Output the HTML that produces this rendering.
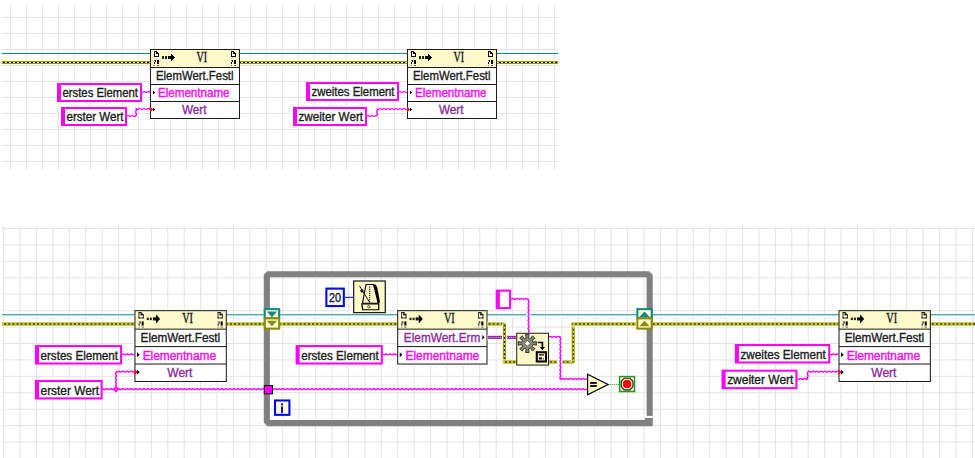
<!DOCTYPE html>
<html><head><meta charset="utf-8"><style>
html,body{margin:0;padding:0;background:#fff;width:975px;height:458px;overflow:hidden}
svg{position:absolute;left:0;top:0;display:block}
text{white-space:pre}
</style></head><body>
<svg width="975" height="458" viewBox="0 0 975 458" shape-rendering="crispEdges">
<rect x="0" y="0" width="975" height="458" fill="#ffffff"/>
<rect x="10" y="5" width="1" height="165" fill="#e4e4e4"/>
<rect x="26" y="5" width="1" height="165" fill="#e4e4e4"/>
<rect x="42" y="5" width="1" height="165" fill="#e4e4e4"/>
<rect x="58" y="5" width="1" height="165" fill="#e4e4e4"/>
<rect x="74" y="5" width="1" height="165" fill="#e4e4e4"/>
<rect x="90" y="5" width="1" height="165" fill="#e4e4e4"/>
<rect x="106" y="5" width="1" height="165" fill="#e4e4e4"/>
<rect x="122" y="5" width="1" height="165" fill="#e4e4e4"/>
<rect x="138" y="5" width="1" height="165" fill="#e4e4e4"/>
<rect x="154" y="5" width="1" height="165" fill="#e4e4e4"/>
<rect x="170" y="5" width="1" height="165" fill="#e4e4e4"/>
<rect x="186" y="5" width="1" height="165" fill="#e4e4e4"/>
<rect x="202" y="5" width="1" height="165" fill="#e4e4e4"/>
<rect x="218" y="5" width="1" height="165" fill="#e4e4e4"/>
<rect x="234" y="5" width="1" height="165" fill="#e4e4e4"/>
<rect x="250" y="5" width="1" height="165" fill="#e4e4e4"/>
<rect x="266" y="5" width="1" height="165" fill="#e4e4e4"/>
<rect x="282" y="5" width="1" height="165" fill="#e4e4e4"/>
<rect x="298" y="5" width="1" height="165" fill="#e4e4e4"/>
<rect x="314" y="5" width="1" height="165" fill="#e4e4e4"/>
<rect x="330" y="5" width="1" height="165" fill="#e4e4e4"/>
<rect x="346" y="5" width="1" height="165" fill="#e4e4e4"/>
<rect x="362" y="5" width="1" height="165" fill="#e4e4e4"/>
<rect x="378" y="5" width="1" height="165" fill="#e4e4e4"/>
<rect x="394" y="5" width="1" height="165" fill="#e4e4e4"/>
<rect x="410" y="5" width="1" height="165" fill="#e4e4e4"/>
<rect x="426" y="5" width="1" height="165" fill="#e4e4e4"/>
<rect x="442" y="5" width="1" height="165" fill="#e4e4e4"/>
<rect x="458" y="5" width="1" height="165" fill="#e4e4e4"/>
<rect x="474" y="5" width="1" height="165" fill="#e4e4e4"/>
<rect x="490" y="5" width="1" height="165" fill="#e4e4e4"/>
<rect x="506" y="5" width="1" height="165" fill="#e4e4e4"/>
<rect x="522" y="5" width="1" height="165" fill="#e4e4e4"/>
<rect x="538" y="5" width="1" height="165" fill="#e4e4e4"/>
<rect x="554" y="5" width="1" height="165" fill="#e4e4e4"/>
<rect x="2" y="17" width="556" height="1" fill="#e4e4e4"/>
<rect x="2" y="33" width="556" height="1" fill="#e4e4e4"/>
<rect x="2" y="49" width="556" height="1" fill="#e4e4e4"/>
<rect x="2" y="65" width="556" height="1" fill="#e4e4e4"/>
<rect x="2" y="81" width="556" height="1" fill="#e4e4e4"/>
<rect x="2" y="97" width="556" height="1" fill="#e4e4e4"/>
<rect x="2" y="113" width="556" height="1" fill="#e4e4e4"/>
<rect x="2" y="129" width="556" height="1" fill="#e4e4e4"/>
<rect x="2" y="145" width="556" height="1" fill="#e4e4e4"/>
<rect x="2" y="161" width="556" height="1" fill="#e4e4e4"/>
<rect x="2" y="52" width="556" height="3" fill="#ffffff"/>
<rect x="2" y="53" width="556" height="1" fill="#0e8a8a"/>
<rect x="2" y="60" width="556" height="5" fill="#ffffff"/>
<rect x="2" y="61" width="556" height="3" fill="#989800"/>
<rect x="2" y="62" width="556" height="1" fill="#ffff00"/>
<rect x="3" y="62" width="2" height="1" fill="#000000"/>
<rect x="7" y="62" width="2" height="1" fill="#000000"/>
<rect x="11" y="62" width="2" height="1" fill="#000000"/>
<rect x="15" y="62" width="2" height="1" fill="#000000"/>
<rect x="19" y="62" width="2" height="1" fill="#000000"/>
<rect x="23" y="62" width="2" height="1" fill="#000000"/>
<rect x="27" y="62" width="2" height="1" fill="#000000"/>
<rect x="31" y="62" width="2" height="1" fill="#000000"/>
<rect x="35" y="62" width="2" height="1" fill="#000000"/>
<rect x="39" y="62" width="2" height="1" fill="#000000"/>
<rect x="43" y="62" width="2" height="1" fill="#000000"/>
<rect x="47" y="62" width="2" height="1" fill="#000000"/>
<rect x="51" y="62" width="2" height="1" fill="#000000"/>
<rect x="55" y="62" width="2" height="1" fill="#000000"/>
<rect x="59" y="62" width="2" height="1" fill="#000000"/>
<rect x="63" y="62" width="2" height="1" fill="#000000"/>
<rect x="67" y="62" width="2" height="1" fill="#000000"/>
<rect x="71" y="62" width="2" height="1" fill="#000000"/>
<rect x="75" y="62" width="2" height="1" fill="#000000"/>
<rect x="79" y="62" width="2" height="1" fill="#000000"/>
<rect x="83" y="62" width="2" height="1" fill="#000000"/>
<rect x="87" y="62" width="2" height="1" fill="#000000"/>
<rect x="91" y="62" width="2" height="1" fill="#000000"/>
<rect x="95" y="62" width="2" height="1" fill="#000000"/>
<rect x="99" y="62" width="2" height="1" fill="#000000"/>
<rect x="103" y="62" width="2" height="1" fill="#000000"/>
<rect x="107" y="62" width="2" height="1" fill="#000000"/>
<rect x="111" y="62" width="2" height="1" fill="#000000"/>
<rect x="115" y="62" width="2" height="1" fill="#000000"/>
<rect x="119" y="62" width="2" height="1" fill="#000000"/>
<rect x="123" y="62" width="2" height="1" fill="#000000"/>
<rect x="127" y="62" width="2" height="1" fill="#000000"/>
<rect x="131" y="62" width="2" height="1" fill="#000000"/>
<rect x="135" y="62" width="2" height="1" fill="#000000"/>
<rect x="139" y="62" width="2" height="1" fill="#000000"/>
<rect x="143" y="62" width="2" height="1" fill="#000000"/>
<rect x="147" y="62" width="2" height="1" fill="#000000"/>
<rect x="151" y="62" width="2" height="1" fill="#000000"/>
<rect x="155" y="62" width="2" height="1" fill="#000000"/>
<rect x="159" y="62" width="2" height="1" fill="#000000"/>
<rect x="163" y="62" width="2" height="1" fill="#000000"/>
<rect x="167" y="62" width="2" height="1" fill="#000000"/>
<rect x="171" y="62" width="2" height="1" fill="#000000"/>
<rect x="175" y="62" width="2" height="1" fill="#000000"/>
<rect x="179" y="62" width="2" height="1" fill="#000000"/>
<rect x="183" y="62" width="2" height="1" fill="#000000"/>
<rect x="187" y="62" width="2" height="1" fill="#000000"/>
<rect x="191" y="62" width="2" height="1" fill="#000000"/>
<rect x="195" y="62" width="2" height="1" fill="#000000"/>
<rect x="199" y="62" width="2" height="1" fill="#000000"/>
<rect x="203" y="62" width="2" height="1" fill="#000000"/>
<rect x="207" y="62" width="2" height="1" fill="#000000"/>
<rect x="211" y="62" width="2" height="1" fill="#000000"/>
<rect x="215" y="62" width="2" height="1" fill="#000000"/>
<rect x="219" y="62" width="2" height="1" fill="#000000"/>
<rect x="223" y="62" width="2" height="1" fill="#000000"/>
<rect x="227" y="62" width="2" height="1" fill="#000000"/>
<rect x="231" y="62" width="2" height="1" fill="#000000"/>
<rect x="235" y="62" width="2" height="1" fill="#000000"/>
<rect x="239" y="62" width="2" height="1" fill="#000000"/>
<rect x="243" y="62" width="2" height="1" fill="#000000"/>
<rect x="247" y="62" width="2" height="1" fill="#000000"/>
<rect x="251" y="62" width="2" height="1" fill="#000000"/>
<rect x="255" y="62" width="2" height="1" fill="#000000"/>
<rect x="259" y="62" width="2" height="1" fill="#000000"/>
<rect x="263" y="62" width="2" height="1" fill="#000000"/>
<rect x="267" y="62" width="2" height="1" fill="#000000"/>
<rect x="271" y="62" width="2" height="1" fill="#000000"/>
<rect x="275" y="62" width="2" height="1" fill="#000000"/>
<rect x="279" y="62" width="2" height="1" fill="#000000"/>
<rect x="283" y="62" width="2" height="1" fill="#000000"/>
<rect x="287" y="62" width="2" height="1" fill="#000000"/>
<rect x="291" y="62" width="2" height="1" fill="#000000"/>
<rect x="295" y="62" width="2" height="1" fill="#000000"/>
<rect x="299" y="62" width="2" height="1" fill="#000000"/>
<rect x="303" y="62" width="2" height="1" fill="#000000"/>
<rect x="307" y="62" width="2" height="1" fill="#000000"/>
<rect x="311" y="62" width="2" height="1" fill="#000000"/>
<rect x="315" y="62" width="2" height="1" fill="#000000"/>
<rect x="319" y="62" width="2" height="1" fill="#000000"/>
<rect x="323" y="62" width="2" height="1" fill="#000000"/>
<rect x="327" y="62" width="2" height="1" fill="#000000"/>
<rect x="331" y="62" width="2" height="1" fill="#000000"/>
<rect x="335" y="62" width="2" height="1" fill="#000000"/>
<rect x="339" y="62" width="2" height="1" fill="#000000"/>
<rect x="343" y="62" width="2" height="1" fill="#000000"/>
<rect x="347" y="62" width="2" height="1" fill="#000000"/>
<rect x="351" y="62" width="2" height="1" fill="#000000"/>
<rect x="355" y="62" width="2" height="1" fill="#000000"/>
<rect x="359" y="62" width="2" height="1" fill="#000000"/>
<rect x="363" y="62" width="2" height="1" fill="#000000"/>
<rect x="367" y="62" width="2" height="1" fill="#000000"/>
<rect x="371" y="62" width="2" height="1" fill="#000000"/>
<rect x="375" y="62" width="2" height="1" fill="#000000"/>
<rect x="379" y="62" width="2" height="1" fill="#000000"/>
<rect x="383" y="62" width="2" height="1" fill="#000000"/>
<rect x="387" y="62" width="2" height="1" fill="#000000"/>
<rect x="391" y="62" width="2" height="1" fill="#000000"/>
<rect x="395" y="62" width="2" height="1" fill="#000000"/>
<rect x="399" y="62" width="2" height="1" fill="#000000"/>
<rect x="403" y="62" width="2" height="1" fill="#000000"/>
<rect x="407" y="62" width="2" height="1" fill="#000000"/>
<rect x="411" y="62" width="2" height="1" fill="#000000"/>
<rect x="415" y="62" width="2" height="1" fill="#000000"/>
<rect x="419" y="62" width="2" height="1" fill="#000000"/>
<rect x="423" y="62" width="2" height="1" fill="#000000"/>
<rect x="427" y="62" width="2" height="1" fill="#000000"/>
<rect x="431" y="62" width="2" height="1" fill="#000000"/>
<rect x="435" y="62" width="2" height="1" fill="#000000"/>
<rect x="439" y="62" width="2" height="1" fill="#000000"/>
<rect x="443" y="62" width="2" height="1" fill="#000000"/>
<rect x="447" y="62" width="2" height="1" fill="#000000"/>
<rect x="451" y="62" width="2" height="1" fill="#000000"/>
<rect x="455" y="62" width="2" height="1" fill="#000000"/>
<rect x="459" y="62" width="2" height="1" fill="#000000"/>
<rect x="463" y="62" width="2" height="1" fill="#000000"/>
<rect x="467" y="62" width="2" height="1" fill="#000000"/>
<rect x="471" y="62" width="2" height="1" fill="#000000"/>
<rect x="475" y="62" width="2" height="1" fill="#000000"/>
<rect x="479" y="62" width="2" height="1" fill="#000000"/>
<rect x="483" y="62" width="2" height="1" fill="#000000"/>
<rect x="487" y="62" width="2" height="1" fill="#000000"/>
<rect x="491" y="62" width="2" height="1" fill="#000000"/>
<rect x="495" y="62" width="2" height="1" fill="#000000"/>
<rect x="499" y="62" width="2" height="1" fill="#000000"/>
<rect x="503" y="62" width="2" height="1" fill="#000000"/>
<rect x="507" y="62" width="2" height="1" fill="#000000"/>
<rect x="511" y="62" width="2" height="1" fill="#000000"/>
<rect x="515" y="62" width="2" height="1" fill="#000000"/>
<rect x="519" y="62" width="2" height="1" fill="#000000"/>
<rect x="523" y="62" width="2" height="1" fill="#000000"/>
<rect x="527" y="62" width="2" height="1" fill="#000000"/>
<rect x="531" y="62" width="2" height="1" fill="#000000"/>
<rect x="535" y="62" width="2" height="1" fill="#000000"/>
<rect x="539" y="62" width="2" height="1" fill="#000000"/>
<rect x="543" y="62" width="2" height="1" fill="#000000"/>
<rect x="547" y="62" width="2" height="1" fill="#000000"/>
<rect x="551" y="62" width="2" height="1" fill="#000000"/>
<rect x="555" y="62" width="2" height="1" fill="#000000"/>
<rect x="150" y="49" width="90" height="70" fill="#1c1c1c"/>
<rect x="151" y="50" width="88" height="17" fill="#fffac9"/>
<rect x="151" y="68" width="88" height="16" fill="#ffffff"/>
<rect x="151" y="85" width="88" height="16" fill="#ffffff"/>
<rect x="151" y="102" width="88" height="16" fill="#ffffff"/>
<rect x="154" y="51" width="1" height="6" fill="#000"/>
<rect x="154" y="56" width="5" height="1" fill="#000"/>
<rect x="158" y="53" width="1" height="4" fill="#000"/>
<rect x="154" y="51" width="3" height="1" fill="#000"/>
<rect x="155" y="52" width="3" height="4" fill="#ffffff"/>
<rect x="156" y="51" width="1" height="3" fill="#000"/>
<rect x="156" y="53" width="3" height="1" fill="#000"/>
<rect x="157" y="52" width="1" height="1" fill="#000"/>
<rect x="154" y="60" width="1" height="1" fill="#777"/>
<rect x="155" y="60" width="1" height="2" fill="#000"/>
<rect x="154" y="62" width="1" height="2" fill="#000"/>
<rect x="157" y="60" width="2" height="4" fill="#000"/>
<rect x="154" y="65" width="1" height="1" fill="#666"/>
<rect x="157" y="65" width="2" height="1" fill="#555"/>
<rect x="231" y="51" width="1" height="6" fill="#000"/>
<rect x="231" y="56" width="5" height="1" fill="#000"/>
<rect x="235" y="53" width="1" height="4" fill="#000"/>
<rect x="231" y="51" width="3" height="1" fill="#000"/>
<rect x="232" y="52" width="3" height="4" fill="#ffffff"/>
<rect x="233" y="51" width="1" height="3" fill="#000"/>
<rect x="233" y="53" width="3" height="1" fill="#000"/>
<rect x="234" y="52" width="1" height="1" fill="#000"/>
<rect x="231" y="60" width="1" height="1" fill="#777"/>
<rect x="232" y="60" width="1" height="2" fill="#000"/>
<rect x="231" y="62" width="1" height="2" fill="#000"/>
<rect x="234" y="60" width="2" height="4" fill="#000"/>
<rect x="231" y="65" width="1" height="1" fill="#666"/>
<rect x="234" y="65" width="2" height="1" fill="#555"/>
<rect x="162" y="56.3" width="2" height="2.4" fill="#222"/>
<rect x="165" y="56.3" width="2" height="2.4" fill="#222"/>
<rect x="168" y="56" width="3" height="3" fill="#000"/>
<polygon points="171,53 175,57.5 171,62" fill="#000"/>
<text x="196.5" y="61.5" font-family="Liberation Serif" font-size="13.9" fill="#101020" stroke="#101020" stroke-width="0.32" text-anchor="start" textLength="10.6" lengthAdjust="spacingAndGlyphs">VI</text>
<text x="156" y="80.4" font-family="Liberation Sans" font-size="12.5" fill="#1a1a1a" stroke="#1a1a1a" stroke-width="0.35" text-anchor="start" textLength="77.5" lengthAdjust="spacingAndGlyphs">ElemWert.Festl</text>
<polygon points="152.5,90 155,92.5 152.5,95" fill="#000"/>
<text x="158" y="97.4" font-family="Liberation Sans" font-size="12.5" fill="#ff00ff" stroke="#ff00ff" stroke-width="0.35" text-anchor="start" textLength="71.5" lengthAdjust="spacingAndGlyphs">Elementname</text>
<polygon points="152.5,107 155,109.5 152.5,112" fill="#000"/>
<polygon points="150,106.5 153,109.5 150,112.5" fill="#ff0000" shape-rendering="auto"/>
<text x="182" y="114.4" font-family="Liberation Sans" font-size="12.5" fill="#8a2a9a" stroke="#8a2a9a" stroke-width="0.35" text-anchor="start" textLength="24.5" lengthAdjust="spacingAndGlyphs">Wert</text>
<rect x="407" y="49" width="90" height="70" fill="#1c1c1c"/>
<rect x="408" y="50" width="88" height="17" fill="#fffac9"/>
<rect x="408" y="68" width="88" height="16" fill="#ffffff"/>
<rect x="408" y="85" width="88" height="16" fill="#ffffff"/>
<rect x="408" y="102" width="88" height="16" fill="#ffffff"/>
<rect x="411" y="51" width="1" height="6" fill="#000"/>
<rect x="411" y="56" width="5" height="1" fill="#000"/>
<rect x="415" y="53" width="1" height="4" fill="#000"/>
<rect x="411" y="51" width="3" height="1" fill="#000"/>
<rect x="412" y="52" width="3" height="4" fill="#ffffff"/>
<rect x="413" y="51" width="1" height="3" fill="#000"/>
<rect x="413" y="53" width="3" height="1" fill="#000"/>
<rect x="414" y="52" width="1" height="1" fill="#000"/>
<rect x="411" y="60" width="1" height="1" fill="#777"/>
<rect x="412" y="60" width="1" height="2" fill="#000"/>
<rect x="411" y="62" width="1" height="2" fill="#000"/>
<rect x="414" y="60" width="2" height="4" fill="#000"/>
<rect x="411" y="65" width="1" height="1" fill="#666"/>
<rect x="414" y="65" width="2" height="1" fill="#555"/>
<rect x="488" y="51" width="1" height="6" fill="#000"/>
<rect x="488" y="56" width="5" height="1" fill="#000"/>
<rect x="492" y="53" width="1" height="4" fill="#000"/>
<rect x="488" y="51" width="3" height="1" fill="#000"/>
<rect x="489" y="52" width="3" height="4" fill="#ffffff"/>
<rect x="490" y="51" width="1" height="3" fill="#000"/>
<rect x="490" y="53" width="3" height="1" fill="#000"/>
<rect x="491" y="52" width="1" height="1" fill="#000"/>
<rect x="488" y="60" width="1" height="1" fill="#777"/>
<rect x="489" y="60" width="1" height="2" fill="#000"/>
<rect x="488" y="62" width="1" height="2" fill="#000"/>
<rect x="491" y="60" width="2" height="4" fill="#000"/>
<rect x="488" y="65" width="1" height="1" fill="#666"/>
<rect x="491" y="65" width="2" height="1" fill="#555"/>
<rect x="419" y="56.3" width="2" height="2.4" fill="#222"/>
<rect x="422" y="56.3" width="2" height="2.4" fill="#222"/>
<rect x="425" y="56" width="3" height="3" fill="#000"/>
<polygon points="428,53 432,57.5 428,62" fill="#000"/>
<text x="453.5" y="61.5" font-family="Liberation Serif" font-size="13.9" fill="#101020" stroke="#101020" stroke-width="0.32" text-anchor="start" textLength="10.6" lengthAdjust="spacingAndGlyphs">VI</text>
<text x="413" y="80.4" font-family="Liberation Sans" font-size="12.5" fill="#1a1a1a" stroke="#1a1a1a" stroke-width="0.35" text-anchor="start" textLength="77.5" lengthAdjust="spacingAndGlyphs">ElemWert.Festl</text>
<polygon points="409.5,90 412,92.5 409.5,95" fill="#000"/>
<text x="415" y="97.4" font-family="Liberation Sans" font-size="12.5" fill="#ff00ff" stroke="#ff00ff" stroke-width="0.35" text-anchor="start" textLength="71.5" lengthAdjust="spacingAndGlyphs">Elementname</text>
<polygon points="409.5,107 412,109.5 409.5,112" fill="#000"/>
<polygon points="407,106.5 410,109.5 407,112.5" fill="#ff0000" shape-rendering="auto"/>
<text x="439" y="114.4" font-family="Liberation Sans" font-size="12.5" fill="#8a2a9a" stroke="#8a2a9a" stroke-width="0.35" text-anchor="start" textLength="24.5" lengthAdjust="spacingAndGlyphs">Wert</text>
<rect x="57" y="83" width="85" height="19" fill="#ff00ff"/>
<rect x="61" y="85" width="79" height="15" fill="#ffffff"/>
<text x="62.5" y="97.4" font-family="Liberation Sans" font-size="12.5" fill="#1a1a1a" stroke="#1a1a1a" stroke-width="0.35" text-anchor="start" textLength="75.5" lengthAdjust="spacingAndGlyphs">erstes Element</text>
<rect x="61" y="107" width="66" height="19" fill="#ff00ff"/>
<rect x="65" y="109" width="60" height="15" fill="#ffffff"/>
<text x="66.5" y="121.4" font-family="Liberation Sans" font-size="12.5" fill="#1a1a1a" stroke="#1a1a1a" stroke-width="0.35" text-anchor="start" textLength="57" lengthAdjust="spacingAndGlyphs">erster Wert</text>
<rect x="306" y="82" width="93" height="19" fill="#ff00ff"/>
<rect x="310" y="84" width="87" height="15" fill="#ffffff"/>
<text x="311.5" y="96.4" font-family="Liberation Sans" font-size="12.5" fill="#1a1a1a" stroke="#1a1a1a" stroke-width="0.35" text-anchor="start" textLength="83" lengthAdjust="spacingAndGlyphs">zweites Element</text>
<rect x="293" y="107" width="74" height="19" fill="#ff00ff"/>
<rect x="297" y="109" width="68" height="15" fill="#ffffff"/>
<text x="298.5" y="121.4" font-family="Liberation Sans" font-size="12.5" fill="#1a1a1a" stroke="#1a1a1a" stroke-width="0.35" text-anchor="start" textLength="64.5" lengthAdjust="spacingAndGlyphs">zweiter Wert</text>
<polyline points="142.00,92.00 142.00,92.50 144.00,91.50 146.00,92.50 148.00,91.50 150.00,92.00" fill="none" stroke="#ff00ff" stroke-width="1.35" stroke-linejoin="round" shape-rendering="auto"/>
<polyline points="127.00,116.00 128.00,115.50 130.00,116.50 132.00,115.50 134.00,116.50 136.00,116.00" fill="none" stroke="#ff00ff" stroke-width="1.35" stroke-linejoin="round" shape-rendering="auto"/>
<polyline points="136.00,109.00 136.50,110.00 135.50,112.00 136.50,114.00 136.00,116.00" fill="none" stroke="#ff00ff" stroke-width="1.35" stroke-linejoin="round" shape-rendering="auto"/>
<polyline points="136.00,109.00 136.00,108.50 138.00,109.50 140.00,108.50 142.00,109.50 144.00,108.50 146.00,109.50 148.00,108.50 150.00,109.00" fill="none" stroke="#ff00ff" stroke-width="1.35" stroke-linejoin="round" shape-rendering="auto"/>
<polyline points="399.00,92.00 400.00,91.50 402.00,92.50 404.00,91.50 406.00,92.50 407.00,92.00" fill="none" stroke="#ff00ff" stroke-width="1.35" stroke-linejoin="round" shape-rendering="auto"/>
<polyline points="367.00,116.00 368.00,115.50 370.00,116.50 372.00,115.50 374.00,116.50 376.00,115.50 377.00,116.00" fill="none" stroke="#ff00ff" stroke-width="1.35" stroke-linejoin="round" shape-rendering="auto"/>
<polyline points="377.00,109.00 377.50,110.00 376.50,112.00 377.50,114.00 377.00,116.00" fill="none" stroke="#ff00ff" stroke-width="1.35" stroke-linejoin="round" shape-rendering="auto"/>
<polyline points="377.00,109.00 378.00,109.50 380.00,108.50 382.00,109.50 384.00,108.50 386.00,109.50 388.00,108.50 390.00,109.50 392.00,108.50 394.00,109.50 396.00,108.50 398.00,109.50 400.00,108.50 402.00,109.50 404.00,108.50 406.00,109.50 407.00,109.00" fill="none" stroke="#ff00ff" stroke-width="1.35" stroke-linejoin="round" shape-rendering="auto"/>
<g transform="translate(0,226) scale(1.0263157894736843)" shape-rendering="auto"><rect x="3" y="0" width="1" height="227" fill="#e4e4e4"/>
<rect x="19" y="0" width="1" height="227" fill="#e4e4e4"/>
<rect x="35" y="0" width="1" height="227" fill="#e4e4e4"/>
<rect x="51" y="0" width="1" height="227" fill="#e4e4e4"/>
<rect x="67" y="0" width="1" height="227" fill="#e4e4e4"/>
<rect x="83" y="0" width="1" height="227" fill="#e4e4e4"/>
<rect x="99" y="0" width="1" height="227" fill="#e4e4e4"/>
<rect x="115" y="0" width="1" height="227" fill="#e4e4e4"/>
<rect x="131" y="0" width="1" height="227" fill="#e4e4e4"/>
<rect x="147" y="0" width="1" height="227" fill="#e4e4e4"/>
<rect x="163" y="0" width="1" height="227" fill="#e4e4e4"/>
<rect x="179" y="0" width="1" height="227" fill="#e4e4e4"/>
<rect x="195" y="0" width="1" height="227" fill="#e4e4e4"/>
<rect x="211" y="0" width="1" height="227" fill="#e4e4e4"/>
<rect x="227" y="0" width="1" height="227" fill="#e4e4e4"/>
<rect x="243" y="0" width="1" height="227" fill="#e4e4e4"/>
<rect x="259" y="0" width="1" height="227" fill="#e4e4e4"/>
<rect x="275" y="0" width="1" height="227" fill="#e4e4e4"/>
<rect x="291" y="0" width="1" height="227" fill="#e4e4e4"/>
<rect x="307" y="0" width="1" height="227" fill="#e4e4e4"/>
<rect x="323" y="0" width="1" height="227" fill="#e4e4e4"/>
<rect x="339" y="0" width="1" height="227" fill="#e4e4e4"/>
<rect x="355" y="0" width="1" height="227" fill="#e4e4e4"/>
<rect x="371" y="0" width="1" height="227" fill="#e4e4e4"/>
<rect x="387" y="0" width="1" height="227" fill="#e4e4e4"/>
<rect x="403" y="0" width="1" height="227" fill="#e4e4e4"/>
<rect x="419" y="0" width="1" height="227" fill="#e4e4e4"/>
<rect x="435" y="0" width="1" height="227" fill="#e4e4e4"/>
<rect x="451" y="0" width="1" height="227" fill="#e4e4e4"/>
<rect x="467" y="0" width="1" height="227" fill="#e4e4e4"/>
<rect x="483" y="0" width="1" height="227" fill="#e4e4e4"/>
<rect x="499" y="0" width="1" height="227" fill="#e4e4e4"/>
<rect x="515" y="0" width="1" height="227" fill="#e4e4e4"/>
<rect x="531" y="0" width="1" height="227" fill="#e4e4e4"/>
<rect x="547" y="0" width="1" height="227" fill="#e4e4e4"/>
<rect x="563" y="0" width="1" height="227" fill="#e4e4e4"/>
<rect x="579" y="0" width="1" height="227" fill="#e4e4e4"/>
<rect x="595" y="0" width="1" height="227" fill="#e4e4e4"/>
<rect x="611" y="0" width="1" height="227" fill="#e4e4e4"/>
<rect x="627" y="0" width="1" height="227" fill="#e4e4e4"/>
<rect x="643" y="0" width="1" height="227" fill="#e4e4e4"/>
<rect x="659" y="0" width="1" height="227" fill="#e4e4e4"/>
<rect x="675" y="0" width="1" height="227" fill="#e4e4e4"/>
<rect x="691" y="0" width="1" height="227" fill="#e4e4e4"/>
<rect x="707" y="0" width="1" height="227" fill="#e4e4e4"/>
<rect x="723" y="0" width="1" height="227" fill="#e4e4e4"/>
<rect x="739" y="0" width="1" height="227" fill="#e4e4e4"/>
<rect x="755" y="0" width="1" height="227" fill="#e4e4e4"/>
<rect x="771" y="0" width="1" height="227" fill="#e4e4e4"/>
<rect x="787" y="0" width="1" height="227" fill="#e4e4e4"/>
<rect x="803" y="0" width="1" height="227" fill="#e4e4e4"/>
<rect x="819" y="0" width="1" height="227" fill="#e4e4e4"/>
<rect x="835" y="0" width="1" height="227" fill="#e4e4e4"/>
<rect x="851" y="0" width="1" height="227" fill="#e4e4e4"/>
<rect x="867" y="0" width="1" height="227" fill="#e4e4e4"/>
<rect x="883" y="0" width="1" height="227" fill="#e4e4e4"/>
<rect x="899" y="0" width="1" height="227" fill="#e4e4e4"/>
<rect x="915" y="0" width="1" height="227" fill="#e4e4e4"/>
<rect x="931" y="0" width="1" height="227" fill="#e4e4e4"/>
<rect x="947" y="0" width="1" height="227" fill="#e4e4e4"/>
<rect x="2" y="2" width="949" height="1" fill="#e4e4e4"/>
<rect x="2" y="18" width="949" height="1" fill="#e4e4e4"/>
<rect x="2" y="34" width="949" height="1" fill="#e4e4e4"/>
<rect x="2" y="50" width="949" height="1" fill="#e4e4e4"/>
<rect x="2" y="66" width="949" height="1" fill="#e4e4e4"/>
<rect x="2" y="82" width="949" height="1" fill="#e4e4e4"/>
<rect x="2" y="98" width="949" height="1" fill="#e4e4e4"/>
<rect x="2" y="114" width="949" height="1" fill="#e4e4e4"/>
<rect x="2" y="130" width="949" height="1" fill="#e4e4e4"/>
<rect x="2" y="146" width="949" height="1" fill="#e4e4e4"/>
<rect x="2" y="162" width="949" height="1" fill="#e4e4e4"/>
<rect x="2" y="178" width="949" height="1" fill="#e4e4e4"/>
<rect x="2" y="194" width="949" height="1" fill="#e4e4e4"/>
<rect x="2" y="210" width="949" height="1" fill="#e4e4e4"/>
<rect x="2" y="226" width="949" height="1" fill="#e4e4e4"/>
<rect x="2" y="85" width="129" height="3" fill="#ffffff"/>
<rect x="2" y="86" width="129" height="1" fill="#0e8a8a"/>
<rect x="221" y="85" width="36" height="3" fill="#ffffff"/>
<rect x="221" y="86" width="36" height="1" fill="#0e8a8a"/>
<rect x="273" y="85" width="114" height="3" fill="#ffffff"/>
<rect x="273" y="86" width="114" height="1" fill="#0e8a8a"/>
<rect x="475" y="85" width="145" height="3" fill="#ffffff"/>
<rect x="475" y="86" width="145" height="1" fill="#0e8a8a"/>
<rect x="636" y="85" width="181" height="3" fill="#ffffff"/>
<rect x="636" y="86" width="181" height="1" fill="#0e8a8a"/>
<rect x="907" y="85" width="44" height="3" fill="#ffffff"/>
<rect x="907" y="86" width="44" height="1" fill="#0e8a8a"/>
<rect x="2" y="93" width="129" height="5" fill="#ffffff"/>
<rect x="2" y="94" width="129" height="3" fill="#989800"/>
<rect x="2" y="95" width="129" height="1" fill="#ffff00"/>
<rect x="4" y="95" width="2" height="1" fill="#000000"/>
<rect x="8" y="95" width="2" height="1" fill="#000000"/>
<rect x="12" y="95" width="2" height="1" fill="#000000"/>
<rect x="16" y="95" width="2" height="1" fill="#000000"/>
<rect x="20" y="95" width="2" height="1" fill="#000000"/>
<rect x="24" y="95" width="2" height="1" fill="#000000"/>
<rect x="28" y="95" width="2" height="1" fill="#000000"/>
<rect x="32" y="95" width="2" height="1" fill="#000000"/>
<rect x="36" y="95" width="2" height="1" fill="#000000"/>
<rect x="40" y="95" width="2" height="1" fill="#000000"/>
<rect x="44" y="95" width="2" height="1" fill="#000000"/>
<rect x="48" y="95" width="2" height="1" fill="#000000"/>
<rect x="52" y="95" width="2" height="1" fill="#000000"/>
<rect x="56" y="95" width="2" height="1" fill="#000000"/>
<rect x="60" y="95" width="2" height="1" fill="#000000"/>
<rect x="64" y="95" width="2" height="1" fill="#000000"/>
<rect x="68" y="95" width="2" height="1" fill="#000000"/>
<rect x="72" y="95" width="2" height="1" fill="#000000"/>
<rect x="76" y="95" width="2" height="1" fill="#000000"/>
<rect x="80" y="95" width="2" height="1" fill="#000000"/>
<rect x="84" y="95" width="2" height="1" fill="#000000"/>
<rect x="88" y="95" width="2" height="1" fill="#000000"/>
<rect x="92" y="95" width="2" height="1" fill="#000000"/>
<rect x="96" y="95" width="2" height="1" fill="#000000"/>
<rect x="100" y="95" width="2" height="1" fill="#000000"/>
<rect x="104" y="95" width="2" height="1" fill="#000000"/>
<rect x="108" y="95" width="2" height="1" fill="#000000"/>
<rect x="112" y="95" width="2" height="1" fill="#000000"/>
<rect x="116" y="95" width="2" height="1" fill="#000000"/>
<rect x="120" y="95" width="2" height="1" fill="#000000"/>
<rect x="124" y="95" width="2" height="1" fill="#000000"/>
<rect x="128" y="95" width="2" height="1" fill="#000000"/>
<rect x="221" y="93" width="36" height="5" fill="#ffffff"/>
<rect x="221" y="94" width="36" height="3" fill="#989800"/>
<rect x="221" y="95" width="36" height="1" fill="#ffff00"/>
<rect x="221" y="95" width="1" height="1" fill="#000000"/>
<rect x="224" y="95" width="2" height="1" fill="#000000"/>
<rect x="228" y="95" width="2" height="1" fill="#000000"/>
<rect x="232" y="95" width="2" height="1" fill="#000000"/>
<rect x="236" y="95" width="2" height="1" fill="#000000"/>
<rect x="240" y="95" width="2" height="1" fill="#000000"/>
<rect x="244" y="95" width="2" height="1" fill="#000000"/>
<rect x="248" y="95" width="2" height="1" fill="#000000"/>
<rect x="252" y="95" width="2" height="1" fill="#000000"/>
<rect x="256" y="95" width="1" height="1" fill="#000000"/>
<rect x="273" y="93" width="114" height="5" fill="#ffffff"/>
<rect x="273" y="94" width="114" height="3" fill="#989800"/>
<rect x="273" y="95" width="114" height="1" fill="#ffff00"/>
<rect x="273" y="95" width="1" height="1" fill="#000000"/>
<rect x="276" y="95" width="2" height="1" fill="#000000"/>
<rect x="280" y="95" width="2" height="1" fill="#000000"/>
<rect x="284" y="95" width="2" height="1" fill="#000000"/>
<rect x="288" y="95" width="2" height="1" fill="#000000"/>
<rect x="292" y="95" width="2" height="1" fill="#000000"/>
<rect x="296" y="95" width="2" height="1" fill="#000000"/>
<rect x="300" y="95" width="2" height="1" fill="#000000"/>
<rect x="304" y="95" width="2" height="1" fill="#000000"/>
<rect x="308" y="95" width="2" height="1" fill="#000000"/>
<rect x="312" y="95" width="2" height="1" fill="#000000"/>
<rect x="316" y="95" width="2" height="1" fill="#000000"/>
<rect x="320" y="95" width="2" height="1" fill="#000000"/>
<rect x="324" y="95" width="2" height="1" fill="#000000"/>
<rect x="328" y="95" width="2" height="1" fill="#000000"/>
<rect x="332" y="95" width="2" height="1" fill="#000000"/>
<rect x="336" y="95" width="2" height="1" fill="#000000"/>
<rect x="340" y="95" width="2" height="1" fill="#000000"/>
<rect x="344" y="95" width="2" height="1" fill="#000000"/>
<rect x="348" y="95" width="2" height="1" fill="#000000"/>
<rect x="352" y="95" width="2" height="1" fill="#000000"/>
<rect x="356" y="95" width="2" height="1" fill="#000000"/>
<rect x="360" y="95" width="2" height="1" fill="#000000"/>
<rect x="364" y="95" width="2" height="1" fill="#000000"/>
<rect x="368" y="95" width="2" height="1" fill="#000000"/>
<rect x="372" y="95" width="2" height="1" fill="#000000"/>
<rect x="376" y="95" width="2" height="1" fill="#000000"/>
<rect x="380" y="95" width="2" height="1" fill="#000000"/>
<rect x="384" y="95" width="2" height="1" fill="#000000"/>
<rect x="636" y="93" width="181" height="5" fill="#ffffff"/>
<rect x="636" y="94" width="181" height="3" fill="#989800"/>
<rect x="636" y="95" width="181" height="1" fill="#ffff00"/>
<rect x="636" y="95" width="2" height="1" fill="#000000"/>
<rect x="640" y="95" width="2" height="1" fill="#000000"/>
<rect x="644" y="95" width="2" height="1" fill="#000000"/>
<rect x="648" y="95" width="2" height="1" fill="#000000"/>
<rect x="652" y="95" width="2" height="1" fill="#000000"/>
<rect x="656" y="95" width="2" height="1" fill="#000000"/>
<rect x="660" y="95" width="2" height="1" fill="#000000"/>
<rect x="664" y="95" width="2" height="1" fill="#000000"/>
<rect x="668" y="95" width="2" height="1" fill="#000000"/>
<rect x="672" y="95" width="2" height="1" fill="#000000"/>
<rect x="676" y="95" width="2" height="1" fill="#000000"/>
<rect x="680" y="95" width="2" height="1" fill="#000000"/>
<rect x="684" y="95" width="2" height="1" fill="#000000"/>
<rect x="688" y="95" width="2" height="1" fill="#000000"/>
<rect x="692" y="95" width="2" height="1" fill="#000000"/>
<rect x="696" y="95" width="2" height="1" fill="#000000"/>
<rect x="700" y="95" width="2" height="1" fill="#000000"/>
<rect x="704" y="95" width="2" height="1" fill="#000000"/>
<rect x="708" y="95" width="2" height="1" fill="#000000"/>
<rect x="712" y="95" width="2" height="1" fill="#000000"/>
<rect x="716" y="95" width="2" height="1" fill="#000000"/>
<rect x="720" y="95" width="2" height="1" fill="#000000"/>
<rect x="724" y="95" width="2" height="1" fill="#000000"/>
<rect x="728" y="95" width="2" height="1" fill="#000000"/>
<rect x="732" y="95" width="2" height="1" fill="#000000"/>
<rect x="736" y="95" width="2" height="1" fill="#000000"/>
<rect x="740" y="95" width="2" height="1" fill="#000000"/>
<rect x="744" y="95" width="2" height="1" fill="#000000"/>
<rect x="748" y="95" width="2" height="1" fill="#000000"/>
<rect x="752" y="95" width="2" height="1" fill="#000000"/>
<rect x="756" y="95" width="2" height="1" fill="#000000"/>
<rect x="760" y="95" width="2" height="1" fill="#000000"/>
<rect x="764" y="95" width="2" height="1" fill="#000000"/>
<rect x="768" y="95" width="2" height="1" fill="#000000"/>
<rect x="772" y="95" width="2" height="1" fill="#000000"/>
<rect x="776" y="95" width="2" height="1" fill="#000000"/>
<rect x="780" y="95" width="2" height="1" fill="#000000"/>
<rect x="784" y="95" width="2" height="1" fill="#000000"/>
<rect x="788" y="95" width="2" height="1" fill="#000000"/>
<rect x="792" y="95" width="2" height="1" fill="#000000"/>
<rect x="796" y="95" width="2" height="1" fill="#000000"/>
<rect x="800" y="95" width="2" height="1" fill="#000000"/>
<rect x="804" y="95" width="2" height="1" fill="#000000"/>
<rect x="808" y="95" width="2" height="1" fill="#000000"/>
<rect x="812" y="95" width="2" height="1" fill="#000000"/>
<rect x="816" y="95" width="1" height="1" fill="#000000"/>
<rect x="907" y="93" width="44" height="5" fill="#ffffff"/>
<rect x="907" y="94" width="44" height="3" fill="#989800"/>
<rect x="907" y="95" width="44" height="1" fill="#ffff00"/>
<rect x="908" y="95" width="2" height="1" fill="#000000"/>
<rect x="912" y="95" width="2" height="1" fill="#000000"/>
<rect x="916" y="95" width="2" height="1" fill="#000000"/>
<rect x="920" y="95" width="2" height="1" fill="#000000"/>
<rect x="924" y="95" width="2" height="1" fill="#000000"/>
<rect x="928" y="95" width="2" height="1" fill="#000000"/>
<rect x="932" y="95" width="2" height="1" fill="#000000"/>
<rect x="936" y="95" width="2" height="1" fill="#000000"/>
<rect x="940" y="95" width="2" height="1" fill="#000000"/>
<rect x="944" y="95" width="2" height="1" fill="#000000"/>
<rect x="948" y="95" width="2" height="1" fill="#000000"/>
<path d="M260.5 44 H632.5 L636 47.5 V195 H260.5 L257 191.5 V47.5 Z M263 50 H630 V189 H263 Z" fill="#808080" fill-rule="evenodd"/>
<rect x="628.5" y="187" width="7.5" height="2" fill="#808080"/>
<rect x="629.5" y="185" width="6.5" height="2" fill="#ffffff"/>
<rect x="257" y="80" width="16" height="11" fill="#0e8a8a"/>
<rect x="259" y="82" width="12" height="7" fill="#fffcd3"/>
<polygon points="260,83.4 270,83.4 265.0,88.8" fill="#0e8a8a"/>
<rect x="257" y="89" width="16" height="12" fill="#8a8a00"/>
<rect x="259" y="91" width="12" height="8" fill="#fffcd3"/>
<polygon points="260,92.4 270,92.4 265.0,97.8" fill="#8a8a00"/>
<rect x="620" y="80" width="16" height="11" fill="#0e8a8a"/>
<rect x="622" y="82" width="12" height="7" fill="#fffcd3"/>
<polygon points="623,88.6 633,88.6 628.0,83.2" fill="#0e8a8a"/>
<rect x="620" y="89" width="16" height="12" fill="#8a8a00"/>
<rect x="622" y="91" width="12" height="8" fill="#fffcd3"/>
<polygon points="623,97.6 633,97.6 628.0,92.2" fill="#8a8a00"/>
<rect x="131" y="82" width="90" height="70" fill="#1c1c1c"/>
<rect x="132" y="83" width="88" height="17" fill="#fffac9"/>
<rect x="132" y="101" width="88" height="16" fill="#ffffff"/>
<rect x="132" y="118" width="88" height="16" fill="#ffffff"/>
<rect x="132" y="135" width="88" height="16" fill="#ffffff"/>
<rect x="135" y="84" width="1" height="6" fill="#000"/>
<rect x="135" y="89" width="5" height="1" fill="#000"/>
<rect x="139" y="86" width="1" height="4" fill="#000"/>
<rect x="135" y="84" width="3" height="1" fill="#000"/>
<rect x="136" y="85" width="3" height="4" fill="#ffffff"/>
<rect x="137" y="84" width="1" height="3" fill="#000"/>
<rect x="137" y="86" width="3" height="1" fill="#000"/>
<rect x="138" y="85" width="1" height="1" fill="#000"/>
<rect x="135" y="93" width="1" height="1" fill="#777"/>
<rect x="136" y="93" width="1" height="2" fill="#000"/>
<rect x="135" y="95" width="1" height="2" fill="#000"/>
<rect x="138" y="93" width="2" height="4" fill="#000"/>
<rect x="135" y="98" width="1" height="1" fill="#666"/>
<rect x="138" y="98" width="2" height="1" fill="#555"/>
<rect x="212" y="84" width="1" height="6" fill="#000"/>
<rect x="212" y="89" width="5" height="1" fill="#000"/>
<rect x="216" y="86" width="1" height="4" fill="#000"/>
<rect x="212" y="84" width="3" height="1" fill="#000"/>
<rect x="213" y="85" width="3" height="4" fill="#ffffff"/>
<rect x="214" y="84" width="1" height="3" fill="#000"/>
<rect x="214" y="86" width="3" height="1" fill="#000"/>
<rect x="215" y="85" width="1" height="1" fill="#000"/>
<rect x="212" y="93" width="1" height="1" fill="#777"/>
<rect x="213" y="93" width="1" height="2" fill="#000"/>
<rect x="212" y="95" width="1" height="2" fill="#000"/>
<rect x="215" y="93" width="2" height="4" fill="#000"/>
<rect x="212" y="98" width="1" height="1" fill="#666"/>
<rect x="215" y="98" width="2" height="1" fill="#555"/>
<rect x="143" y="89.3" width="2" height="2.4" fill="#222"/>
<rect x="146" y="89.3" width="2" height="2.4" fill="#222"/>
<rect x="149" y="89" width="3" height="3" fill="#000"/>
<polygon points="152,86 156,90.5 152,95" fill="#000"/>
<text x="177.5" y="94.5" font-family="Liberation Serif" font-size="13.9" fill="#101020" stroke="#101020" stroke-width="0.32" text-anchor="start" textLength="10.6" lengthAdjust="spacingAndGlyphs">VI</text>
<text x="137" y="113.4" font-family="Liberation Sans" font-size="12.5" fill="#1a1a1a" stroke="#1a1a1a" stroke-width="0.35" text-anchor="start" textLength="77.5" lengthAdjust="spacingAndGlyphs">ElemWert.Festl</text>
<polygon points="133.5,123 136,125.5 133.5,128" fill="#000"/>
<text x="139" y="130.4" font-family="Liberation Sans" font-size="12.5" fill="#ff00ff" stroke="#ff00ff" stroke-width="0.35" text-anchor="start" textLength="71.5" lengthAdjust="spacingAndGlyphs">Elementname</text>
<polygon points="133.5,140 136,142.5 133.5,145" fill="#000"/>
<polygon points="131,139.5 134,142.5 131,145.5" fill="#ff0000" shape-rendering="auto"/>
<text x="163" y="147.4" font-family="Liberation Sans" font-size="12.5" fill="#8a2a9a" stroke="#8a2a9a" stroke-width="0.35" text-anchor="start" textLength="24.5" lengthAdjust="spacingAndGlyphs">Wert</text>
<rect x="817" y="82" width="90" height="70" fill="#1c1c1c"/>
<rect x="818" y="83" width="88" height="17" fill="#fffac9"/>
<rect x="818" y="101" width="88" height="16" fill="#ffffff"/>
<rect x="818" y="118" width="88" height="16" fill="#ffffff"/>
<rect x="818" y="135" width="88" height="16" fill="#ffffff"/>
<rect x="821" y="84" width="1" height="6" fill="#000"/>
<rect x="821" y="89" width="5" height="1" fill="#000"/>
<rect x="825" y="86" width="1" height="4" fill="#000"/>
<rect x="821" y="84" width="3" height="1" fill="#000"/>
<rect x="822" y="85" width="3" height="4" fill="#ffffff"/>
<rect x="823" y="84" width="1" height="3" fill="#000"/>
<rect x="823" y="86" width="3" height="1" fill="#000"/>
<rect x="824" y="85" width="1" height="1" fill="#000"/>
<rect x="821" y="93" width="1" height="1" fill="#777"/>
<rect x="822" y="93" width="1" height="2" fill="#000"/>
<rect x="821" y="95" width="1" height="2" fill="#000"/>
<rect x="824" y="93" width="2" height="4" fill="#000"/>
<rect x="821" y="98" width="1" height="1" fill="#666"/>
<rect x="824" y="98" width="2" height="1" fill="#555"/>
<rect x="898" y="84" width="1" height="6" fill="#000"/>
<rect x="898" y="89" width="5" height="1" fill="#000"/>
<rect x="902" y="86" width="1" height="4" fill="#000"/>
<rect x="898" y="84" width="3" height="1" fill="#000"/>
<rect x="899" y="85" width="3" height="4" fill="#ffffff"/>
<rect x="900" y="84" width="1" height="3" fill="#000"/>
<rect x="900" y="86" width="3" height="1" fill="#000"/>
<rect x="901" y="85" width="1" height="1" fill="#000"/>
<rect x="898" y="93" width="1" height="1" fill="#777"/>
<rect x="899" y="93" width="1" height="2" fill="#000"/>
<rect x="898" y="95" width="1" height="2" fill="#000"/>
<rect x="901" y="93" width="2" height="4" fill="#000"/>
<rect x="898" y="98" width="1" height="1" fill="#666"/>
<rect x="901" y="98" width="2" height="1" fill="#555"/>
<rect x="829" y="89.3" width="2" height="2.4" fill="#222"/>
<rect x="832" y="89.3" width="2" height="2.4" fill="#222"/>
<rect x="835" y="89" width="3" height="3" fill="#000"/>
<polygon points="838,86 842,90.5 838,95" fill="#000"/>
<text x="863.5" y="94.5" font-family="Liberation Serif" font-size="13.9" fill="#101020" stroke="#101020" stroke-width="0.32" text-anchor="start" textLength="10.6" lengthAdjust="spacingAndGlyphs">VI</text>
<text x="823" y="113.4" font-family="Liberation Sans" font-size="12.5" fill="#1a1a1a" stroke="#1a1a1a" stroke-width="0.35" text-anchor="start" textLength="77.5" lengthAdjust="spacingAndGlyphs">ElemWert.Festl</text>
<polygon points="819.5,123 822,125.5 819.5,128" fill="#000"/>
<text x="825" y="130.4" font-family="Liberation Sans" font-size="12.5" fill="#ff00ff" stroke="#ff00ff" stroke-width="0.35" text-anchor="start" textLength="71.5" lengthAdjust="spacingAndGlyphs">Elementname</text>
<polygon points="819.5,140 822,142.5 819.5,145" fill="#000"/>
<polygon points="817,139.5 820,142.5 817,145.5" fill="#ff0000" shape-rendering="auto"/>
<text x="849" y="147.4" font-family="Liberation Sans" font-size="12.5" fill="#8a2a9a" stroke="#8a2a9a" stroke-width="0.35" text-anchor="start" textLength="24.5" lengthAdjust="spacingAndGlyphs">Wert</text>
<rect x="387" y="82" width="88" height="53" fill="#1c1c1c"/>
<rect x="388" y="83" width="86" height="17" fill="#fffac9"/>
<rect x="388" y="101" width="86" height="16" fill="#ffffff"/>
<rect x="388" y="118" width="86" height="16" fill="#ffffff"/>
<rect x="391" y="84" width="1" height="6" fill="#000"/>
<rect x="391" y="89" width="5" height="1" fill="#000"/>
<rect x="395" y="86" width="1" height="4" fill="#000"/>
<rect x="391" y="84" width="3" height="1" fill="#000"/>
<rect x="392" y="85" width="3" height="4" fill="#ffffff"/>
<rect x="393" y="84" width="1" height="3" fill="#000"/>
<rect x="393" y="86" width="3" height="1" fill="#000"/>
<rect x="394" y="85" width="1" height="1" fill="#000"/>
<rect x="391" y="93" width="1" height="1" fill="#777"/>
<rect x="392" y="93" width="1" height="2" fill="#000"/>
<rect x="391" y="95" width="1" height="2" fill="#000"/>
<rect x="394" y="93" width="2" height="4" fill="#000"/>
<rect x="391" y="98" width="1" height="1" fill="#666"/>
<rect x="394" y="98" width="2" height="1" fill="#555"/>
<rect x="466" y="84" width="1" height="6" fill="#000"/>
<rect x="466" y="89" width="5" height="1" fill="#000"/>
<rect x="470" y="86" width="1" height="4" fill="#000"/>
<rect x="466" y="84" width="3" height="1" fill="#000"/>
<rect x="467" y="85" width="3" height="4" fill="#ffffff"/>
<rect x="468" y="84" width="1" height="3" fill="#000"/>
<rect x="468" y="86" width="3" height="1" fill="#000"/>
<rect x="469" y="85" width="1" height="1" fill="#000"/>
<rect x="466" y="93" width="1" height="1" fill="#777"/>
<rect x="467" y="93" width="1" height="2" fill="#000"/>
<rect x="466" y="95" width="1" height="2" fill="#000"/>
<rect x="469" y="93" width="2" height="4" fill="#000"/>
<rect x="466" y="98" width="1" height="1" fill="#666"/>
<rect x="469" y="98" width="2" height="1" fill="#555"/>
<rect x="399" y="89.3" width="2" height="2.4" fill="#222"/>
<rect x="402" y="89.3" width="2" height="2.4" fill="#222"/>
<rect x="405" y="89" width="3" height="3" fill="#000"/>
<polygon points="408,86 412,90.5 408,95" fill="#000"/>
<text x="432.5" y="94.5" font-family="Liberation Serif" font-size="13.9" fill="#101020" stroke="#101020" stroke-width="0.32" text-anchor="start" textLength="10.6" lengthAdjust="spacingAndGlyphs">VI</text>
<text x="393.5" y="113.4" font-family="Liberation Sans" font-size="12.5" fill="#8a2a9a" stroke="#8a2a9a" stroke-width="0.35" text-anchor="start" textLength="74.5" lengthAdjust="spacingAndGlyphs">ElemWert.Erm</text>
<polygon points="470,106 472,108.5 470,111" fill="#000"/>
<polygon points="389.5,123 392,125.5 389.5,128" fill="#000"/>
<text x="395" y="130.4" font-family="Liberation Sans" font-size="12.5" fill="#ff00ff" stroke="#ff00ff" stroke-width="0.35" text-anchor="start" textLength="72" lengthAdjust="spacingAndGlyphs">Elementname</text>
<rect x="34" y="116" width="85" height="19" fill="#ff00ff"/>
<rect x="38" y="118" width="79" height="15" fill="#ffffff"/>
<text x="39.5" y="130.4" font-family="Liberation Sans" font-size="12.5" fill="#1a1a1a" stroke="#1a1a1a" stroke-width="0.35" text-anchor="start" textLength="75.5" lengthAdjust="spacingAndGlyphs">erstes Element</text>
<rect x="34" y="150" width="66" height="19" fill="#ff00ff"/>
<rect x="38" y="152" width="60" height="15" fill="#ffffff"/>
<text x="39.5" y="164.4" font-family="Liberation Sans" font-size="12.5" fill="#1a1a1a" stroke="#1a1a1a" stroke-width="0.35" text-anchor="start" textLength="57" lengthAdjust="spacingAndGlyphs">erster Wert</text>
<rect x="288" y="116" width="85" height="19" fill="#ff00ff"/>
<rect x="292" y="118" width="79" height="15" fill="#ffffff"/>
<text x="293.5" y="130.4" font-family="Liberation Sans" font-size="12.5" fill="#1a1a1a" stroke="#1a1a1a" stroke-width="0.35" text-anchor="start" textLength="75.5" lengthAdjust="spacingAndGlyphs">erstes Element</text>
<rect x="716" y="115" width="93" height="19" fill="#ff00ff"/>
<rect x="720" y="117" width="87" height="15" fill="#ffffff"/>
<text x="721.5" y="129.4" font-family="Liberation Sans" font-size="12.5" fill="#1a1a1a" stroke="#1a1a1a" stroke-width="0.35" text-anchor="start" textLength="83" lengthAdjust="spacingAndGlyphs">zweites Element</text>
<rect x="703" y="140" width="74" height="19" fill="#ff00ff"/>
<rect x="707" y="142" width="68" height="15" fill="#ffffff"/>
<text x="708.5" y="154.4" font-family="Liberation Sans" font-size="12.5" fill="#1a1a1a" stroke="#1a1a1a" stroke-width="0.35" text-anchor="start" textLength="64.5" lengthAdjust="spacingAndGlyphs">zweiter Wert</text>
<rect x="483" y="62" width="15" height="19" fill="#ff00ff"/>
<rect x="487" y="64" width="9" height="15" fill="#ffffff"/>
<rect x="475" y="93" width="17" height="5" fill="#ffffff"/>
<rect x="475" y="94" width="17" height="3" fill="#989800"/>
<rect x="475" y="95" width="17" height="1" fill="#ffff00"/>
<rect x="476" y="95" width="2" height="1" fill="#000000"/>
<rect x="480" y="95" width="2" height="1" fill="#000000"/>
<rect x="484" y="95" width="2" height="1" fill="#000000"/>
<rect x="488" y="95" width="2" height="1" fill="#000000"/>
<rect x="489" y="95" width="5" height="38" fill="#ffffff"/>
<rect x="490" y="95" width="3" height="38" fill="#989800"/>
<rect x="491" y="95" width="1" height="38" fill="#ffff00"/>
<rect x="491" y="96" width="1" height="2" fill="#000000"/>
<rect x="491" y="100" width="1" height="2" fill="#000000"/>
<rect x="491" y="104" width="1" height="2" fill="#000000"/>
<rect x="491" y="108" width="1" height="2" fill="#000000"/>
<rect x="491" y="112" width="1" height="2" fill="#000000"/>
<rect x="491" y="116" width="1" height="2" fill="#000000"/>
<rect x="491" y="120" width="1" height="2" fill="#000000"/>
<rect x="491" y="124" width="1" height="2" fill="#000000"/>
<rect x="491" y="128" width="1" height="2" fill="#000000"/>
<rect x="491" y="132" width="1" height="1" fill="#000000"/>
<rect x="490" y="130" width="13" height="5" fill="#ffffff"/>
<rect x="490" y="131" width="13" height="3" fill="#989800"/>
<rect x="490" y="132" width="13" height="1" fill="#ffff00"/>
<rect x="492" y="132" width="2" height="1" fill="#000000"/>
<rect x="496" y="132" width="2" height="1" fill="#000000"/>
<rect x="500" y="132" width="2" height="1" fill="#000000"/>
<rect x="535" y="130" width="24" height="5" fill="#ffffff"/>
<rect x="535" y="131" width="24" height="3" fill="#989800"/>
<rect x="535" y="132" width="24" height="1" fill="#ffff00"/>
<rect x="536" y="132" width="2" height="1" fill="#000000"/>
<rect x="540" y="132" width="2" height="1" fill="#000000"/>
<rect x="544" y="132" width="2" height="1" fill="#000000"/>
<rect x="548" y="132" width="2" height="1" fill="#000000"/>
<rect x="552" y="132" width="2" height="1" fill="#000000"/>
<rect x="556" y="132" width="2" height="1" fill="#000000"/>
<rect x="556" y="95" width="5" height="38" fill="#ffffff"/>
<rect x="557" y="95" width="3" height="38" fill="#989800"/>
<rect x="558" y="95" width="1" height="38" fill="#ffff00"/>
<rect x="558" y="96" width="1" height="2" fill="#000000"/>
<rect x="558" y="100" width="1" height="2" fill="#000000"/>
<rect x="558" y="104" width="1" height="2" fill="#000000"/>
<rect x="558" y="108" width="1" height="2" fill="#000000"/>
<rect x="558" y="112" width="1" height="2" fill="#000000"/>
<rect x="558" y="116" width="1" height="2" fill="#000000"/>
<rect x="558" y="120" width="1" height="2" fill="#000000"/>
<rect x="558" y="124" width="1" height="2" fill="#000000"/>
<rect x="558" y="128" width="1" height="2" fill="#000000"/>
<rect x="558" y="132" width="1" height="1" fill="#000000"/>
<rect x="557" y="93" width="63" height="5" fill="#ffffff"/>
<rect x="557" y="94" width="63" height="3" fill="#989800"/>
<rect x="557" y="95" width="63" height="1" fill="#ffff00"/>
<rect x="557" y="95" width="1" height="1" fill="#000000"/>
<rect x="560" y="95" width="2" height="1" fill="#000000"/>
<rect x="564" y="95" width="2" height="1" fill="#000000"/>
<rect x="568" y="95" width="2" height="1" fill="#000000"/>
<rect x="572" y="95" width="2" height="1" fill="#000000"/>
<rect x="576" y="95" width="2" height="1" fill="#000000"/>
<rect x="580" y="95" width="2" height="1" fill="#000000"/>
<rect x="584" y="95" width="2" height="1" fill="#000000"/>
<rect x="588" y="95" width="2" height="1" fill="#000000"/>
<rect x="592" y="95" width="2" height="1" fill="#000000"/>
<rect x="596" y="95" width="2" height="1" fill="#000000"/>
<rect x="600" y="95" width="2" height="1" fill="#000000"/>
<rect x="604" y="95" width="2" height="1" fill="#000000"/>
<rect x="608" y="95" width="2" height="1" fill="#000000"/>
<rect x="612" y="95" width="2" height="1" fill="#000000"/>
<rect x="616" y="95" width="2" height="1" fill="#000000"/>
<rect x="543" y="129.5" width="5" height="5" fill="#ffffff"/>
<rect x="475" y="106" width="14" height="5" fill="#ffffff"/>
<rect x="475" y="107" width="14" height="3" fill="#8c1a9c"/>
<rect x="475" y="108" width="1" height="1" fill="#e8c8f0"/>
<rect x="477" y="108" width="1" height="1" fill="#e8c8f0"/>
<rect x="479" y="108" width="1" height="1" fill="#e8c8f0"/>
<rect x="481" y="108" width="1" height="1" fill="#e8c8f0"/>
<rect x="483" y="108" width="1" height="1" fill="#e8c8f0"/>
<rect x="485" y="108" width="1" height="1" fill="#e8c8f0"/>
<rect x="487" y="108" width="1" height="1" fill="#e8c8f0"/>
<rect x="494" y="106" width="9" height="5" fill="#ffffff"/>
<rect x="494" y="107" width="9" height="3" fill="#8c1a9c"/>
<rect x="494" y="108" width="1" height="1" fill="#e8c8f0"/>
<rect x="496" y="108" width="1" height="1" fill="#e8c8f0"/>
<rect x="498" y="108" width="1" height="1" fill="#e8c8f0"/>
<rect x="500" y="108" width="1" height="1" fill="#e8c8f0"/>
<rect x="502" y="108" width="1" height="1" fill="#e8c8f0"/>
<rect x="513" y="85" width="4" height="3" fill="#ffffff"/>
<polyline points="119.00,125.00 120.00,124.50 122.00,125.50 124.00,124.50 126.00,125.50 128.00,124.50 130.00,125.50 131.00,125.00" fill="none" stroke="#ff00ff" stroke-width="1.35" stroke-linejoin="round" shape-rendering="auto"/>
<polyline points="100.00,159.00 100.00,158.50 102.00,159.50 104.00,158.50 106.00,159.50 108.00,158.50 110.00,159.50 112.00,158.50 114.00,159.50 116.00,158.50 118.00,159.50 120.00,158.50 122.00,159.50 124.00,158.50 126.00,159.50 128.00,158.50 130.00,159.50 132.00,158.50 134.00,159.50 136.00,158.50 138.00,159.50 140.00,158.50 142.00,159.50 144.00,158.50 146.00,159.50 148.00,158.50 150.00,159.50 152.00,158.50 154.00,159.50 156.00,158.50 158.00,159.50 160.00,158.50 162.00,159.50 164.00,158.50 166.00,159.50 168.00,158.50 170.00,159.50 172.00,158.50 174.00,159.50 176.00,158.50 178.00,159.50 180.00,158.50 182.00,159.50 184.00,158.50 186.00,159.50 188.00,158.50 190.00,159.50 192.00,158.50 194.00,159.50 196.00,158.50 198.00,159.50 200.00,158.50 202.00,159.50 204.00,158.50 206.00,159.50 208.00,158.50 210.00,159.50 212.00,158.50 214.00,159.50 216.00,158.50 218.00,159.50 220.00,158.50 222.00,159.50 224.00,158.50 226.00,159.50 228.00,158.50 230.00,159.50 232.00,158.50 234.00,159.50 236.00,158.50 238.00,159.50 240.00,158.50 242.00,159.50 244.00,158.50 246.00,159.50 248.00,158.50 250.00,159.50 252.00,158.50 254.00,159.50 256.00,158.50 257.00,159.00" fill="none" stroke="#ff00ff" stroke-width="1.35" stroke-linejoin="round" shape-rendering="auto"/>
<polyline points="265.00,159.00 266.00,159.50 268.00,158.50 270.00,159.50 272.00,158.50 274.00,159.50 276.00,158.50 278.00,159.50 280.00,158.50 282.00,159.50 284.00,158.50 286.00,159.50 288.00,158.50 290.00,159.50 292.00,158.50 294.00,159.50 296.00,158.50 298.00,159.50 300.00,158.50 302.00,159.50 304.00,158.50 306.00,159.50 308.00,158.50 310.00,159.50 312.00,158.50 314.00,159.50 316.00,158.50 318.00,159.50 320.00,158.50 322.00,159.50 324.00,158.50 326.00,159.50 328.00,158.50 330.00,159.50 332.00,158.50 334.00,159.50 336.00,158.50 338.00,159.50 340.00,158.50 342.00,159.50 344.00,158.50 346.00,159.50 348.00,158.50 350.00,159.50 352.00,158.50 354.00,159.50 356.00,158.50 358.00,159.50 360.00,158.50 362.00,159.50 364.00,158.50 366.00,159.50 368.00,158.50 370.00,159.50 372.00,158.50 374.00,159.50 376.00,158.50 378.00,159.50 380.00,158.50 382.00,159.50 384.00,158.50 386.00,159.50 388.00,158.50 390.00,159.50 392.00,158.50 394.00,159.50 396.00,158.50 398.00,159.50 400.00,158.50 402.00,159.50 404.00,158.50 406.00,159.50 408.00,158.50 410.00,159.50 412.00,158.50 414.00,159.50 416.00,158.50 418.00,159.50 420.00,158.50 422.00,159.50 424.00,158.50 426.00,159.50 428.00,158.50 430.00,159.50 432.00,158.50 434.00,159.50 436.00,158.50 438.00,159.50 440.00,158.50 442.00,159.50 444.00,158.50 446.00,159.50 448.00,158.50 450.00,159.50 452.00,158.50 454.00,159.50 456.00,158.50 458.00,159.50 460.00,158.50 462.00,159.50 464.00,158.50 466.00,159.50 468.00,158.50 470.00,159.50 472.00,158.50 474.00,159.50 476.00,158.50 478.00,159.50 480.00,158.50 482.00,159.50 484.00,158.50 486.00,159.50 488.00,158.50 490.00,159.50 492.00,158.50 494.00,159.50 496.00,158.50 498.00,159.50 500.00,158.50 502.00,159.50 504.00,158.50 506.00,159.50 508.00,158.50 510.00,159.50 512.00,158.50 514.00,159.50 516.00,158.50 518.00,159.50 520.00,158.50 522.00,159.50 524.00,158.50 526.00,159.50 528.00,158.50 530.00,159.50 532.00,158.50 534.00,159.50 536.00,158.50 538.00,159.50 540.00,158.50 542.00,159.50 544.00,158.50 546.00,159.50 548.00,158.50 550.00,159.50 552.00,158.50 554.00,159.50 556.00,158.50 558.00,159.50 560.00,158.50 562.00,159.50 564.00,158.50 566.00,159.50 568.00,158.50 570.00,159.50 572.00,159.00" fill="none" stroke="#ff00ff" stroke-width="1.35" stroke-linejoin="round" shape-rendering="auto"/>
<polyline points="113.00,142.00 113.50,142.00 112.50,144.00 113.50,146.00 112.50,148.00 113.50,150.00 112.50,152.00 113.50,154.00 112.50,156.00 113.50,158.00 113.00,159.00" fill="none" stroke="#ff00ff" stroke-width="1.35" stroke-linejoin="round" shape-rendering="auto"/>
<polyline points="113.00,142.00 114.00,142.50 116.00,141.50 118.00,142.50 120.00,141.50 122.00,142.50 124.00,141.50 126.00,142.50 128.00,141.50 130.00,142.50 131.00,142.00" fill="none" stroke="#ff00ff" stroke-width="1.35" stroke-linejoin="round" shape-rendering="auto"/>
<polyline points="373.00,125.00 374.00,125.50 376.00,124.50 378.00,125.50 380.00,124.50 382.00,125.50 384.00,124.50 386.00,125.50 387.00,125.00" fill="none" stroke="#ff00ff" stroke-width="1.35" stroke-linejoin="round" shape-rendering="auto"/>
<polyline points="498.00,71.00 498.00,71.50 500.00,70.50 502.00,71.50 504.00,70.50 506.00,71.50 508.00,70.50 510.00,71.50 512.00,70.50 514.00,71.50 515.00,71.00" fill="none" stroke="#ff00ff" stroke-width="1.35" stroke-linejoin="round" shape-rendering="auto"/>
<polyline points="515.00,71.00 514.50,72.00 515.50,74.00 514.50,76.00 515.50,78.00 514.50,80.00 515.50,82.00 514.50,84.00 515.50,86.00 514.50,88.00 515.50,90.00 514.50,92.00 515.50,94.00 514.50,96.00 515.50,98.00 514.50,100.00 515.50,102.00 515.00,104.00" fill="none" stroke="#ff00ff" stroke-width="1.35" stroke-linejoin="round" shape-rendering="auto"/>
<polyline points="535.00,108.00 536.00,107.50 538.00,108.50 540.00,107.50 542.00,108.50 544.00,107.50 546.00,108.00" fill="none" stroke="#ff00ff" stroke-width="1.35" stroke-linejoin="round" shape-rendering="auto"/>
<polyline points="546.00,108.00 545.50,108.00 546.50,110.00 545.50,112.00 546.50,114.00 545.50,116.00 546.50,118.00 545.50,120.00 546.50,122.00 545.50,124.00 546.50,126.00 545.50,128.00 546.50,130.00 545.50,132.00 546.50,134.00 545.50,136.00 546.50,138.00 545.50,140.00 546.50,142.00 545.50,144.00 546.50,146.00 545.50,148.00 546.00,149.00" fill="none" stroke="#ff00ff" stroke-width="1.35" stroke-linejoin="round" shape-rendering="auto"/>
<polyline points="546.00,149.00 546.00,149.50 548.00,148.50 550.00,149.50 552.00,148.50 554.00,149.50 556.00,148.50 558.00,149.50 560.00,148.50 562.00,149.50 564.00,148.50 566.00,149.50 568.00,148.50 570.00,149.50 572.00,149.00" fill="none" stroke="#ff00ff" stroke-width="1.35" stroke-linejoin="round" shape-rendering="auto"/>
<polyline points="809.00,125.00 810.00,125.50 812.00,124.50 814.00,125.50 816.00,124.50 817.00,125.00" fill="none" stroke="#ff00ff" stroke-width="1.35" stroke-linejoin="round" shape-rendering="auto"/>
<polyline points="777.00,149.00 778.00,149.50 780.00,148.50 782.00,149.50 784.00,148.50 786.00,149.50 787.00,149.00" fill="none" stroke="#ff00ff" stroke-width="1.35" stroke-linejoin="round" shape-rendering="auto"/>
<polyline points="787.00,142.00 787.50,142.00 786.50,144.00 787.50,146.00 786.50,148.00 787.00,149.00" fill="none" stroke="#ff00ff" stroke-width="1.35" stroke-linejoin="round" shape-rendering="auto"/>
<polyline points="787.00,142.00 788.00,141.50 790.00,142.50 792.00,141.50 794.00,142.50 796.00,141.50 798.00,142.50 800.00,141.50 802.00,142.50 804.00,141.50 806.00,142.50 808.00,141.50 810.00,142.50 812.00,141.50 814.00,142.50 816.00,141.50 817.00,142.00" fill="none" stroke="#ff00ff" stroke-width="1.35" stroke-linejoin="round" shape-rendering="auto"/>
<rect x="257" y="155" width="9" height="9" fill="#000"/>
<rect x="258" y="156" width="7" height="7" fill="#ff00ff"/>
<polygon points="113,155.8 116.2,159 113,162.2 109.8,159" fill="#ff00ff"/>
<rect x="112.4" y="158.4" width="1.2" height="1.2" fill="#ffb0ff"/>
<rect x="336" y="69" width="8" height="1" fill="#0000ff"/>
<rect x="317" y="60" width="19" height="19" fill="#0000ff"/>
<rect x="319" y="62" width="15" height="15" fill="#ffffff"/>
<text x="320.5" y="74.4" font-family="Liberation Sans" font-size="12.5" fill="#181830" stroke="#181830" stroke-width="0.35" text-anchor="start" textLength="11.8" lengthAdjust="spacingAndGlyphs">20</text>
<rect x="344" y="53" width="32" height="32" fill="#1a1a1a"/>
<rect x="345.2" y="54.2" width="29.6" height="29.6" fill="#fdf9c8"/>
<path d="M356.6 57 H364 L368.6 75.3 H353.2 Z" fill="#fdf9c8" stroke="#000" stroke-width="1.1" stroke-linejoin="round"/>
<path d="M364.6 57.3 Q366.5 59 367 63 L369.2 74.8" fill="none" stroke="#000" stroke-width="2.4"/>
<path d="M352.6 75.8 H369 V81.6 H353.4 Z" fill="#fdf9c8" stroke="#000" stroke-width="1.2"/>
<rect x="359.6" y="59.0" width="1.1" height="1.1" fill="#000"/>
<rect x="359.6" y="61.05" width="1.1" height="1.1" fill="#000"/>
<rect x="359.6" y="63.1" width="1.1" height="1.1" fill="#000"/>
<rect x="359.6" y="65.15" width="1.1" height="1.1" fill="#000"/>
<rect x="359.6" y="67.2" width="1.1" height="1.1" fill="#000"/>
<rect x="359.6" y="69.25" width="1.1" height="1.1" fill="#000"/>
<rect x="359.6" y="71.3" width="1.1" height="1.1" fill="#000"/>
<rect x="359.6" y="73.35" width="1.1" height="1.1" fill="#000"/>
<path d="M350.2 58.2 L360.2 74.5" stroke="#000" stroke-width="0.9"/>
<polygon points="352.6,61.2 354.4,63.2 352.6,65.2 350.8,63.2" fill="#000"/>
<polygon points="359.4,77.4 360.8,78.7 359.4,80 358,78.7" fill="none" stroke="#000" stroke-width="0.7"/>
<rect x="267" y="169" width="16" height="16" fill="#0000ff"/>
<rect x="269" y="171" width="12" height="12" fill="#fffcd3"/>
<rect x="273.8" y="172.8" width="2" height="2" fill="#1818a8"/>
<rect x="273.8" y="175.8" width="2" height="6.6" fill="#1818a8"/>
<rect x="503" y="104" width="32" height="32" fill="#202020"/>
<rect x="504" y="105" width="30" height="30" fill="#fdf9c8"/>
<polygon points="522.63,112.64 522.63,116.16 519.29,115.49 518.46,117.51 521.28,119.40 518.80,121.88 516.91,119.06 514.89,119.89 515.56,123.23 512.04,123.23 512.71,119.89 510.69,119.06 508.80,121.88 506.32,119.40 509.14,117.51 508.31,115.49 504.97,116.16 504.97,112.64 508.31,113.31 509.14,111.29 506.32,109.40 508.80,106.92 510.69,109.74 512.71,108.91 512.04,105.57 515.56,105.57 514.89,108.91 516.91,109.74 518.80,106.92 521.28,109.40 518.46,111.29 519.29,113.31" fill="#8a8a7a" stroke="#2a2a22" stroke-width="0.9" stroke-linejoin="round"/>
<polygon points="513.8,111.60000000000001 516.5999999999999,114.4 513.8,117.2 510.99999999999994,114.4" fill="#ffffff" stroke="#3a3a30" stroke-width="0.6"/>
<path d="M524 113.5 H528.5 V119" fill="none" stroke="#000" stroke-width="1.6"/>
<polygon points="526,118 531,118 528.5,121" fill="#000"/>
<rect x="522" y="122" width="11" height="11" fill="#000"/>
<rect x="524" y="124" width="7" height="7" fill="#fdf9c8"/>
<rect x="525" y="125" width="5" height="1.2" fill="#000"/>
<rect x="525" y="128" width="3" height="2" fill="#000"/>
<rect x="529" y="129" width="1" height="1" fill="#000"/>
<polygon points="572.5,144.5 592.5,154.5 572.5,164.5" fill="#fdf9c8" stroke="#000" stroke-width="1.2"/>
<rect x="575" y="152" width="6.5" height="1.8" fill="#000"/>
<rect x="575" y="155" width="6.5" height="1.8" fill="#000"/>
<rect x="594" y="154" width="1" height="1" fill="#2a9a2a"/>
<rect x="596" y="154" width="1" height="1" fill="#2a9a2a"/>
<rect x="598" y="154" width="1" height="1" fill="#2a9a2a"/>
<rect x="600" y="154" width="1" height="1" fill="#2a9a2a"/>
<rect x="602" y="154" width="1" height="1" fill="#2a9a2a"/>
<rect x="603" y="146" width="16" height="16" fill="#1e961e"/>
<rect x="604.4" y="147.4" width="13.2" height="13.2" fill="#fdf9c8"/>
<polygon points="608.30,148.30 613.70,148.30 616.70,151.30 616.70,156.70 613.70,159.70 608.30,159.70 605.30,156.70 605.30,151.30" fill="#fdf9c8" stroke="#1a1a1a" stroke-width="1.1"/>
<polygon points="608.90,150.10 613.10,150.10 614.90,151.90 614.90,156.10 613.10,157.90 608.90,157.90 607.10,156.10 607.10,151.90" fill="#ff0000"/></g>
</svg>
</body></html>
